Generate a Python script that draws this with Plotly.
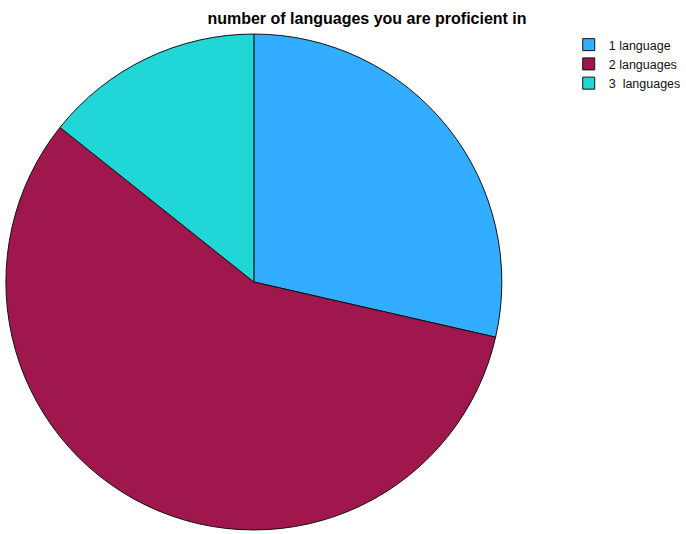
import plotly.graph_objects as go

# Survey response counts per category
categories = ["1 language", "2 languages", "3\u00a0 languages"]
counts = [6, 12, 3]
colors = ["#33adff", "#a0174d", "#20d6d6"]

W, H = 686, 534

fig = go.Figure(
    go.Pie(
        labels=categories,
        values=counts,
        sort=False,
        direction="clockwise",
        rotation=0,
        textinfo="none",
        hoverinfo="label+value+percent",
        marker=dict(colors=colors, line=dict(color="#111111", width=1)),
        domain=dict(x=[6 / W, 510 / W], y=[0, 1 - 30 / H]),
    )
)

fig.update_layout(
    width=W,
    height=H,
    margin=dict(l=0, r=0, t=0, b=0),
    paper_bgcolor="white",
    plot_bgcolor="white",
    font=dict(family="Liberation Sans, Arial, sans-serif", size=13, color="#111111"),
    title=dict(
        text="<b>number of languages you are proficient in</b>",
        x=367 / W,
        xanchor="center",
        y=1 - 18 / H,
        yanchor="middle",
        font=dict(size=16, color="#000000"),
    ),
    legend=dict(
        x=578 / W,
        xanchor="left",
        y=1 - 30 / H,
        yanchor="top",
        font=dict(size=12.5, color="#111111"),
        itemwidth=30,
        tracegroupgap=0,
        bgcolor="rgba(0,0,0,0)",
    ),
)

fig.write_html("out.html")
